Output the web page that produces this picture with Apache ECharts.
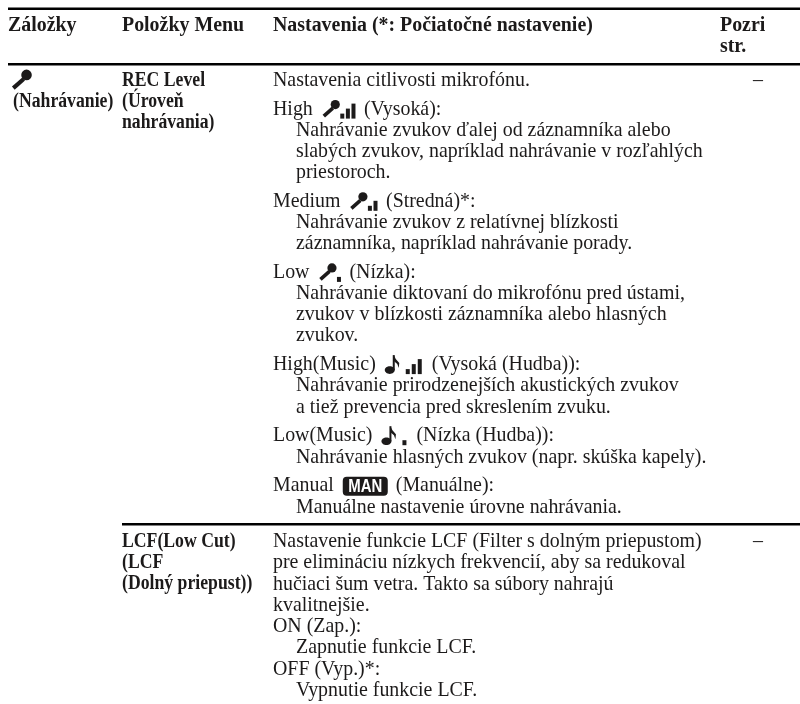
<!DOCTYPE html>
<html>
<head>
<meta charset="utf-8">
<style>html,body{margin:0;padding:0;background:#fff}#main{width:800px;height:704px}</style>
<script src="https://cdn.jsdelivr.net/npm/echarts@6/dist/echarts.min.js"></script>
</head>
<body>
<div id="main"></div>
<script>
// table content
const headers = ['Záložky', 'Položky Menu', 'Nastavenia (*: Počiatočné nastavenie)']
const refHeader = ['Pozri', 'str.']
const tabLabel = '(Nahrávanie)'
const recItem = ['REC Level', '(Úroveň', 'nahrávania)']
const lcfItem = ['LCF(Low Cut)', '(LCF', '(Dolný priepust))']
const recIntro = 'Nastavenia citlivosti mikrofónu.'
const recHeads = [
  ['High', 'mic', 3, '(Vysoká):'],
  ['Medium', 'mic', 2, '(Stredná)*:'],
  ['Low', 'mic', 1, '(Nízka):'],
  ['High(Music)', 'note', 3, '(Vysoká (Hudba)):'],
  ['Low(Music)', 'note', 1, '(Nízka (Hudba)):'],
  ['Manual', 'man', 0, '(Manuálne):']
]
const recBodies = [
  ['Nahrávanie zvukov ďalej od záznamníka alebo', 'slabých zvukov, napríklad nahrávanie v rozľahlých', 'priestoroch.'],
  ['Nahrávanie zvukov z relatívnej blízkosti', 'záznamníka, napríklad nahrávanie porady.'],
  ['Nahrávanie diktovaní do mikrofónu pred ústami,', 'zvukov v blízkosti záznamníka alebo hlasných', 'zvukov.'],
  ['Nahrávanie prirodzenejších akustických zvukov', 'a tiež prevencia pred skreslením zvuku.'],
  ['Nahrávanie hlasných zvukov (napr. skúška kapely).'],
  ['Manuálne nastavenie úrovne nahrávania.']
]
const lcfLines = [
  ['Nastavenie funkcie LCF (Filter s dolným priepustom)', 0],
  ['pre elimináciu nízkych frekvencií, aby sa redukoval', 0],
  ['hučiaci šum vetra. Takto sa súbory nahrajú', 0],
  ['kvalitnejšie.', 0],
  ['ON (Zap.):', 0],
  ['Zapnutie funkcie LCF.', 1],
  ['OFF (Vyp.)*:', 0],
  ['Vypnutie funkcie LCF.', 1]
]
const noRef = '–'

const ink = '#1c1a1a'
const fontFamily = '"Liberation Serif", "Times New Roman", serif'
const fontSize = 19.9
const colX = [8, 122, 273, 720]
const indent = 23
const lineH = 21.1
const gap = 7.8
const recTop = 80.7
const lcfTop = 541.7
const lcfLineH = 21.3
// bold text inside the rows is set narrower than the header
const rowBoldScale = 0.89

const ctx = document.createElement('canvas').getContext('2d')
function textW(s) {
  ctx.font = fontSize + 'px ' + fontFamily
  return ctx.measureText(s).width
}

const els = []
function txt(s, x, y, bold, scaleX) {
  els.push({
    type: 'text',
    x: x,
    y: y,
    scaleX: scaleX || 1,
    style: {
      text: s,
      fill: ink,
      font: (bold ? 'bold ' : '') + fontSize + 'px ' + fontFamily,
      textVerticalAlign: 'middle'
    }
  })
}
function rule(x1, y, h) {
  els.push({ type: 'rect', shape: { x: x1, y: y, width: 800 - x1, height: h }, style: { fill: '#000' } })
}
// x = left edge, b = bottom of the icon; s = scale
function mic(x, b, s) {
  els.push({ type: 'circle', shape: { cx: x + 13.5 * s, cy: b - 14 * s, r: 4.6 * s }, style: { fill: ink } })
  els.push({
    type: 'line',
    shape: { x1: x + 2 * s, y1: b - 2.5 * s, x2: x + 11 * s, y2: b - 10.5 * s },
    style: { stroke: ink, lineWidth: 3.6 * s }
  })
}
function note(x, b) {
  els.push({ type: 'ellipse', shape: { cx: x + 5, cy: b - 4, rx: 5, ry: 3.8 }, style: { fill: ink } })
  els.push({ type: 'rect', shape: { x: x + 8, y: b - 19, width: 2, height: 15 }, style: { fill: ink } })
  els.push({
    type: 'polygon',
    shape: { points: [[x + 9, b - 19], [x + 11, b - 15], [x + 14.5, b - 11], [x + 14, b - 6], [x + 12.5, b - 10], [x + 9, b - 13]] },
    style: { fill: ink }
  })
}
function bars(x, b, n, pitch) {
  const hs = [5, 10, 15]
  for (let i = 0; i < n; i++) {
    els.push({ type: 'rect', shape: { x: x + i * pitch, y: b - hs[i], width: 4, height: hs[i] }, style: { fill: ink } })
  }
}
function manBadge(x, y) {
  els.push({ type: 'rect', shape: { x: x, y: y - 9.5, width: 45, height: 19, r: 4 }, style: { fill: ink } })
  els.push({
    type: 'text',
    x: x + 22.5,
    y: y + 0.5,
    scaleX: 0.83,
    style: {
      text: 'MAN',
      fill: '#fff',
      font: 'bold 18px "Liberation Sans", Arial, sans-serif',
      textAlign: 'center',
      textVerticalAlign: 'middle'
    }
  })
}

// heading and rules
rule(8, 7.5, 2.4)
rule(8, 63, 2.4)
headers.forEach((h, i) => txt(h, colX[i], 26, true))
refHeader.forEach((h, i) => txt(h, colX[3], 26 + i * 21, true))

// first column
mic(11, 91, 1.15)
txt(tabLabel, 13, recTop + 21, true, rowBoldScale)

recItem.forEach((s, i) => txt(s, colX[1], recTop + i * 21.3, true, rowBoldScale))
txt(noRef, 753, recTop, false)

// settings of REC Level
let y = recTop
txt(recIntro, colX[2], y)
recHeads.forEach((h, i) => {
  y += lineH + gap
  txt(h[0], colX[2], y)
  let x = colX[2] + textW(h[0]) + 9
  const b = y + 9
  if (h[1] === 'mic') {
    mic(x, b, 1)
    x += 18.5
    bars(x, b, h[2], 5.6)
    x += (h[2] - 1) * 5.6 + 4 + 8.5
  } else if (h[1] === 'note') {
    note(x, b)
    x += 21
    bars(x, b, h[2], 6)
    x += (h[2] - 1) * 6 + 4 + 10
  } else {
    manBadge(x, y)
    x += 45 + 8
  }
  txt(h[3], x, y)
  recBodies[i].forEach((s) => {
    y += lineH
    txt(s, colX[2] + indent, y)
  })
})

rule(colX[1], 523, 2.4)

lcfItem.forEach((s, i) => txt(s, colX[1], lcfTop + i * lcfLineH, true, rowBoldScale))
txt(noRef, 753, lcfTop, false)
lcfLines.forEach((l, i) => txt(l[0], colX[2] + l[1] * indent, lcfTop + i * lcfLineH))

const chart = echarts.init(document.getElementById('main'), null, { renderer: 'canvas' })
chart.setOption({
  backgroundColor: '#fff',
  animation: false,
  graphic: { elements: els }
})
</script>
</body>
</html>
